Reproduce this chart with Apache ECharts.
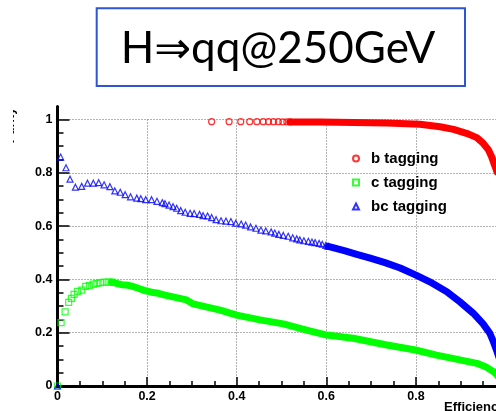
<!DOCTYPE html>
<html>
<head>
<meta charset="utf-8">
<script src="https://cdn.jsdelivr.net/npm/echarts@6/dist/echarts.min.js"></script>
<style>
  html, body { margin: 0; padding: 0; background: #fff; }
  #chart { width: 496px; height: 411px; }
</style>
</head>
<body>
<div id="chart"></div>
<script>
// Purity vs. efficiency for flavour tagging, H -> qq at 250 GeV.
const titleText = 'H\u21D2qq@250GeV';
const xTitle = 'Efficiency';
const yTitle = 'Purity';
const seriesNames = ['b tagging', 'c tagging', 'bc tagging'];

// b tagging: individually resolved points, then the dense high-efficiency part
const bMarkers = [
  [0.344, 0.992], [0.383, 0.992], [0.409, 0.992], [0.429, 0.992], [0.445, 0.992],
  [0.459, 0.992], [0.471, 0.992], [0.482, 0.992], [0.493, 0.992], [0.503, 0.991],
  [0.512, 0.991], [0.519, 0.991]
];
const bBand = [
  [0.519, 0.991], [0.586, 0.991], [0.660, 0.989], [0.735, 0.987], [0.809, 0.982],
  [0.854, 0.973], [0.884, 0.963], [0.913, 0.948], [0.936, 0.932], [0.950, 0.911],
  [0.962, 0.886], [0.969, 0.860], [0.974, 0.836], [0.977, 0.823], [0.981, 0.803]
];

// c tagging
const cMarkers = [
  [0.000, 0.000],
  [0.008, 0.238], [0.017, 0.278], [0.025, 0.314], [0.031, 0.329], [0.037, 0.344],
  [0.045, 0.355], [0.054, 0.360], [0.063, 0.374], [0.071, 0.377], [0.080, 0.382],
  [0.088, 0.385], [0.096, 0.388], [0.104, 0.390], [0.113, 0.390], [0.121, 0.390]
];
const cBand = [
  [0.121, 0.390], [0.132, 0.385], [0.143, 0.380], [0.154, 0.379], [0.166, 0.375],
  [0.180, 0.367], [0.195, 0.358], [0.210, 0.352], [0.225, 0.348], [0.240, 0.341],
  [0.288, 0.323], [0.303, 0.308], [0.363, 0.285], [0.400, 0.266], [0.452, 0.248],
  [0.504, 0.233], [0.556, 0.210], [0.601, 0.191], [0.660, 0.179], [0.735, 0.154],
  [0.799, 0.135], [0.846, 0.116], [0.898, 0.098], [0.936, 0.085], [0.958, 0.070],
  [0.973, 0.054], [0.979, 0.045], [0.984, 0.035]
];

// bc tagging
const bcMarkers = [
  [0.000, 0.000],
  [0.007, 0.859], [0.019, 0.819], [0.028, 0.776], [0.040, 0.746], [0.054, 0.749],
  [0.067, 0.761], [0.080, 0.761], [0.092, 0.763], [0.104, 0.755], [0.117, 0.748],
  [0.128, 0.732], [0.140, 0.727], [0.151, 0.718], [0.163, 0.710], [0.177, 0.705],
  [0.186, 0.703], [0.197, 0.699], [0.210, 0.699], [0.222, 0.693], [0.234, 0.688],
  [0.240, 0.684], [0.249, 0.679], [0.258, 0.673], [0.266, 0.667], [0.275, 0.658],
  [0.285, 0.652], [0.296, 0.648], [0.305, 0.647], [0.317, 0.644], [0.325, 0.639],
  [0.335, 0.638], [0.344, 0.632], [0.354, 0.624], [0.365, 0.620], [0.376, 0.619],
  [0.387, 0.617], [0.398, 0.611], [0.410, 0.608], [0.420, 0.604], [0.431, 0.597],
  [0.443, 0.592], [0.454, 0.585], [0.465, 0.582], [0.477, 0.578], [0.485, 0.574],
  [0.494, 0.569], [0.504, 0.565], [0.515, 0.562], [0.525, 0.556], [0.534, 0.552],
  [0.541, 0.548], [0.550, 0.545], [0.560, 0.543], [0.568, 0.540], [0.575, 0.538],
  [0.584, 0.535], [0.591, 0.532], [0.599, 0.528], [0.604, 0.524]
];
const bcBand = [
  [0.604, 0.524], [0.617, 0.518], [0.642, 0.507], [0.666, 0.495], [0.698, 0.480],
  [0.731, 0.463], [0.765, 0.443], [0.799, 0.417], [0.831, 0.391], [0.869, 0.354],
  [0.898, 0.316], [0.928, 0.273], [0.950, 0.233], [0.965, 0.198], [0.973, 0.166],
  [0.979, 0.139], [0.986, 0.105]
];

const xTicks = { min: 0, max: 1, interval: 0.2 };
const yTicks = { min: 0, max: 1, interval: 0.2 };

const colors = { b: '#ff0000', c: '#00ff00', bc: '#0000ff' };
const labelFont = { fontFamily: 'Liberation Sans', fontWeight: 'bold', fontSize: 12.5, color: '#000' };
const frameLine = { show: true, lineStyle: { color: '#000', width: 3 } };
const gridDots = { show: true, lineStyle: { color: '#666', width: 1, type: [1, 2] } };

// plot frame geometry (pixels)
const frame = { left: 57.5, width: 448, bottom: 386, unitHeight: 266.5, topPad: 13 };

function markerSeries(name, data, symbol, color, size) {
  return {
    name, type: 'scatter', data, symbol, symbolSize: size,
    itemStyle: { color: 'rgba(0,0,0,0)', borderColor: color, borderWidth: 1.2 },
    xAxisIndex: 0, yAxisIndex: 0, z: 3
  };
}
function bandSeries(name, data, color) {
  return {
    name, type: 'line', data, symbol: 'none', silent: true,
    lineStyle: { color, width: 7, join: 'round', cap: 'round' },
    xAxisIndex: 0, yAxisIndex: 0, z: 2
  };
}

const chart = echarts.init(document.getElementById('chart'), null, { renderer: 'canvas' });
chart.setOption({
  animation: false,
  backgroundColor: '#fff',
  grid: [
    { left: frame.left, top: frame.bottom - frame.unitHeight, width: frame.width, height: frame.unitHeight,
      outerBoundsMode: 'none', containLabel: false },
    { left: frame.left, top: frame.bottom - frame.unitHeight - frame.topPad, width: frame.width,
      height: frame.unitHeight + frame.topPad, outerBoundsMode: 'none', containLabel: false }
  ],
  xAxis: [
    {
      gridIndex: 0, type: 'value', ...xTicks,
      axisLine: frameLine,
      axisTick: { show: true, inside: true, length: 9, lineStyle: { color: '#000', width: 1.5 } },
      minorTick: { show: true, splitNumber: 4, length: 5, lineStyle: { color: '#000', width: 1.5 } },
      axisLabel: { ...labelFont, margin: 4 },
      splitLine: gridDots
    },
    {
      gridIndex: 1, type: 'value', position: 'top', min: 0, max: 1,
      axisLine: frameLine, axisTick: { show: false }, axisLabel: { show: false }, splitLine: { show: false }
    }
  ],
  yAxis: [
    {
      gridIndex: 0, type: 'value', ...yTicks,
      axisLine: frameLine,
      axisTick: { show: true, inside: true, length: 12, lineStyle: { color: '#000', width: 1.5 } },
      minorTick: { show: true, splitNumber: 4, length: 6, lineStyle: { color: '#000', width: 1.5 } },
      axisLabel: { ...labelFont, margin: 5 },
      splitLine: gridDots
    },
    {
      gridIndex: 1, type: 'value', position: 'left', min: 0, max: 1,
      axisLine: frameLine, axisTick: { show: false }, axisLabel: { show: false }, splitLine: { show: false }
    }
  ],
  legend: {
    orient: 'vertical', left: 347, top: 146,
    itemWidth: 6, itemHeight: 6, itemGap: 9,
    data: [
      { name: seriesNames[0], icon: 'circle' },
      { name: seriesNames[1], icon: 'rect' },
      { name: seriesNames[2], icon: 'triangle' }
    ],
    textStyle: { fontFamily: 'Liberation Sans', fontWeight: 'bold', fontSize: 15, color: '#000',
      padding: [0, 0, 0, 7] }
  },
  series: [
    bandSeries('b band', bBand, colors.b),
    markerSeries(seriesNames[0], bMarkers, 'circle', colors.b, 6),
    bandSeries('c band', cBand, colors.c),
    markerSeries(seriesNames[1], cMarkers, 'rect', colors.c, 6),
    bandSeries('bc band', bcBand, colors.bc),
    markerSeries(seriesNames[2], bcMarkers, 'triangle', colors.bc, 6)
  ],
  graphic: [
    {
      type: 'rect', z: 10,
      shape: { x: 96.7, y: 8.3, width: 368.3, height: 77.7 },
      style: { fill: '#fff', stroke: '#2e55d4', lineWidth: 2 }
    },
    {
      type: 'text', z: 11, x: 278, y: 49,
      style: { text: titleText, font: '44px Lato, "Noto Sans", "DejaVu Sans"', fill: '#000',
        align: 'center', verticalAlign: 'middle' }
    },
    // x-axis title, right-aligned at the end of the axis
    {
      type: 'text', z: 10, x: frame.left + frame.width, y: 401,
      style: { text: xTitle, font: 'bold 13px "Liberation Sans"', fill: '#000',
        align: 'right', verticalAlign: 'top' }
    },
    // y-axis title, rotated along the axis; the slide layout hides most of it
    {
      type: 'text', z: 10, x: 17.5, y: 125.5, rotation: Math.PI / 2,
      style: { text: yTitle, font: 'bold 12.5px "Liberation Sans"', fill: '#000',
        align: 'center', verticalAlign: 'bottom' }
    },
    {
      type: 'rect', z: 11,
      shape: { x: 0, y: 100, width: 13, height: 50 },
      style: { fill: '#fff' }
    }
  ]
});
</script>
</body>
</html>
